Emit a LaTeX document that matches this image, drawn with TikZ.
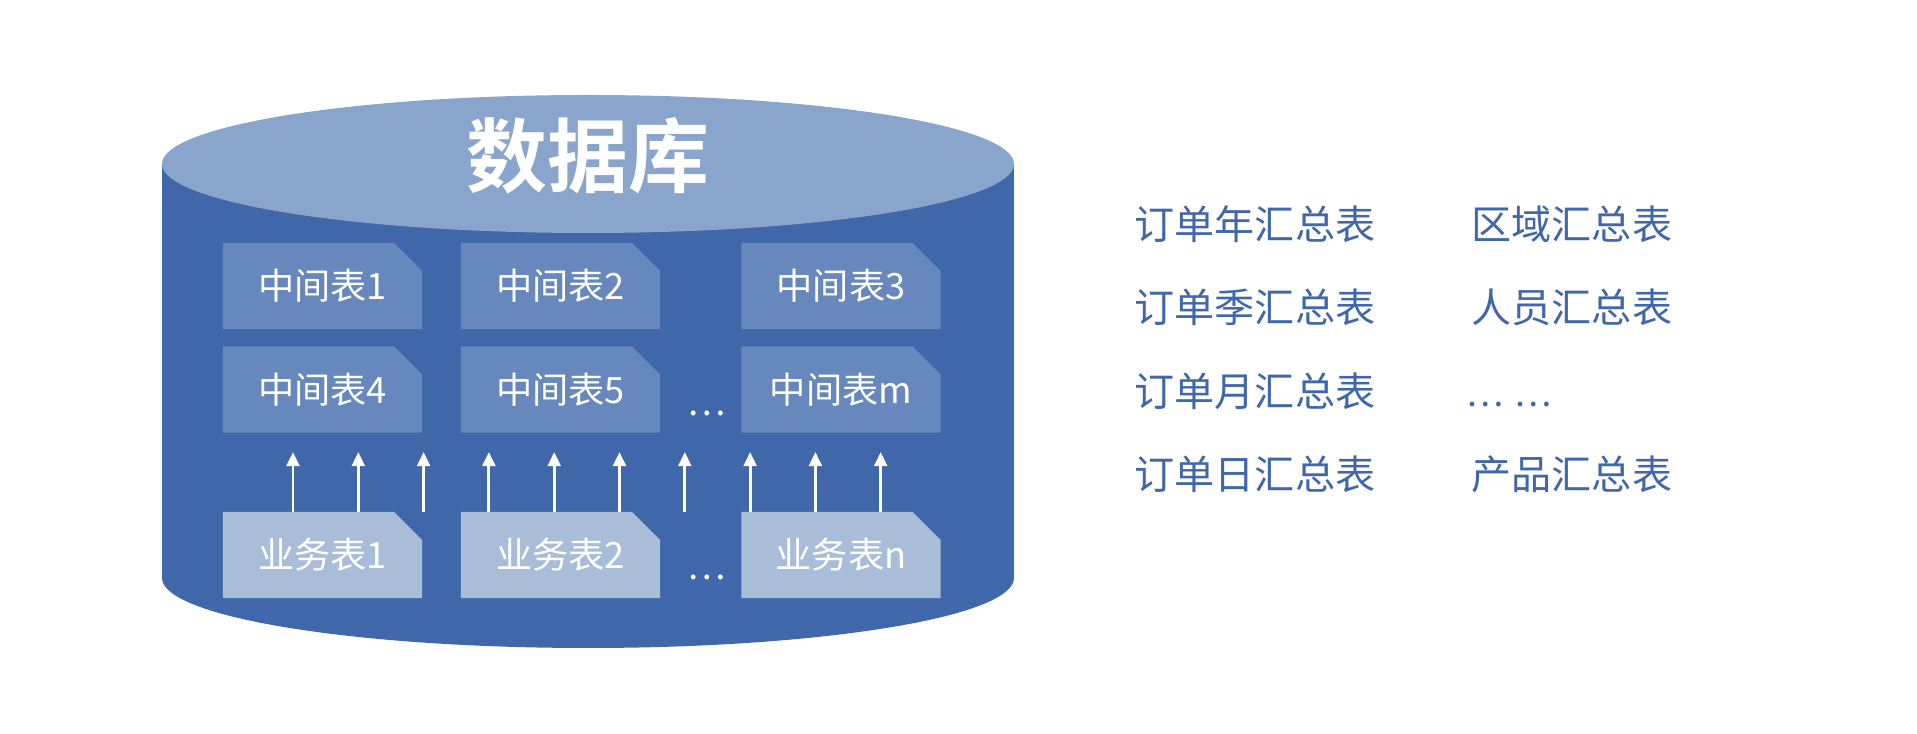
\documentclass[tikz,border=0pt]{standalone}
\usepackage{fontspec}
\setmainfont{Noto Sans CJK SC}[BoldFont={Noto Sans CJK SC Bold}]
\usepackage{tikz}
\usetikzlibrary{shapes.misc,arrows.meta}
\definecolor{dbbody}{RGB}{63,103,170}
\definecolor{dbtop}{RGB}{138,165,203}
\definecolor{midtab}{RGB}{102,136,188}
\definecolor{srctab}{RGB}{169,189,217}
\tikzset{
  tab/.style={chamfered rectangle,chamfered rectangle corners=north east,
    chamfered rectangle xsep=0.14cm,chamfered rectangle ysep=0.14cm,
    minimum width=1.99cm,minimum height=0.86cm,inner sep=0pt,
    text=white,font=\fontsize{10.3}{12}\selectfont},
  midtab/.style={tab,fill=midtab},
  srctab/.style={tab,fill=srctab},
  sumtxt/.style={text=dbbody,anchor=west,inner sep=0pt,font=\fontsize{11.4}{13}\selectfont},
  uparrow/.style={white,line width=0.85pt,-{Triangle[length=4pt,width=3.6pt]}}
}
\begin{document}
\begin{tikzpicture}[x=0.01cm,y=-0.01cm]
        \useasboundingbox(0,0)rectangle(1917,734);
        \fill[dbbody](162,164)rectangle(1014,578);
        \fill[dbbody](588,578)ellipse[x radius=426,y radius=70];
        \fill[dbtop](588,164)ellipse[x radius=426,y radius=69];
        \node[text=white,font=\bfseries\fontsize{23}{26}\selectfont](title)at(588,156){数据库};

        \node[midtab](m1)at(322.5,286){中间表1};
        \node[midtab](m2)at(560.5,286){中间表2};
        \node[midtab](m3)at(841,286){中间表3};
        \node[midtab](m4)at(322.5,389.5){中间表4};
        \node[midtab](m5)at(560.5,389.5){中间表5};
        \node[midtab](mm)at(841,389.5){中间表m};
        \node[text=white,font=\fontsize{10.3}{12}\selectfont](mdots)at(707,413){…};

        \node[srctab](b1)at(322.5,555){业务表1};
        \node[srctab](b2)at(560.5,555){业务表2};
        \node[srctab](bn)at(841,555){业务表n};
        \node[text=white,font=\fontsize{10.3}{12}\selectfont](bdots)at(707,577){…};

        \foreach \i in {0,...,9}{
            \coordinate(s\i)at(293+65.3*\i,512);
            \coordinate(t\i)at(293+65.3*\i,452);
            \draw[uparrow](s\i)--(t\i);
        }

        \node[sumtxt](y1)at(1134,224){订单年汇总表};
        \node[sumtxt](y2)at(1134,307){订单季汇总表};
        \node[sumtxt](y3)at(1134,391){订单月汇总表};
        \node[sumtxt](y4)at(1134,474){订单日汇总表};
        \node[sumtxt](z1)at(1471,224){区域汇总表};
        \node[sumtxt](z2)at(1471,307){人员汇总表};
        \node[sumtxt,font=\fontsize{10}{12}\selectfont](z3)at(1466,405){…\hspace{0.3em}…};
        \node[sumtxt](z4)at(1471,474){产品汇总表};
    \end{tikzpicture}
\end{document}
